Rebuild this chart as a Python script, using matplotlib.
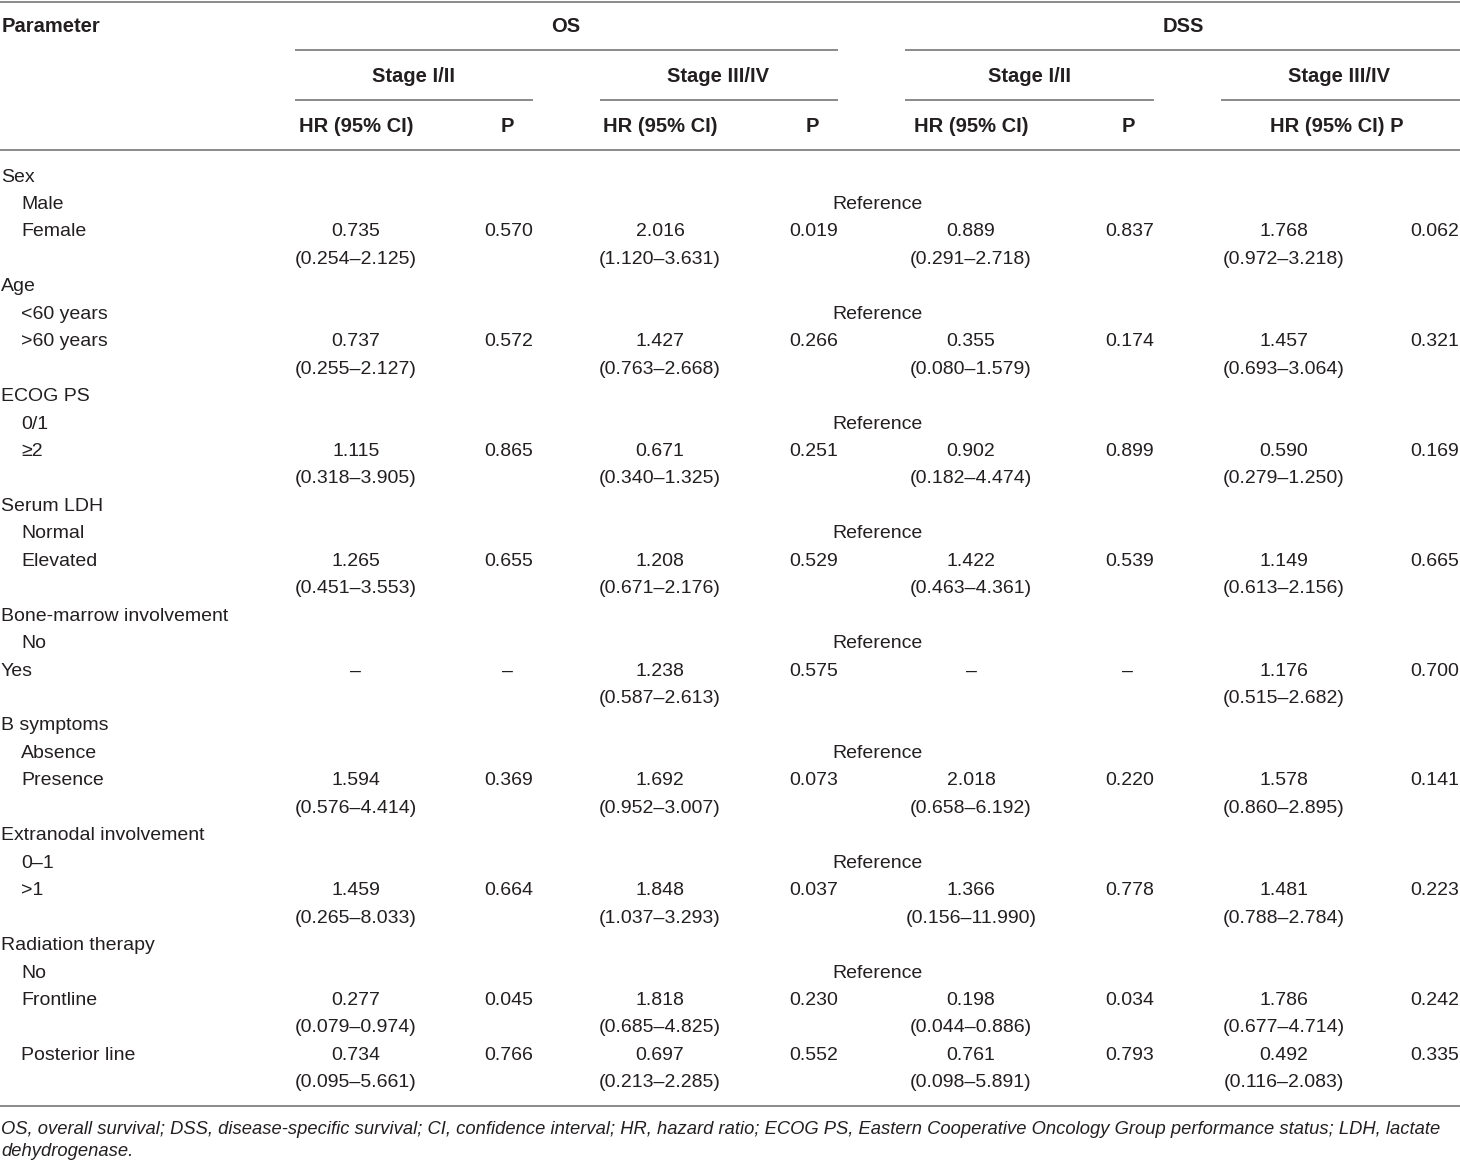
import matplotlib.pyplot as plt

plt.rcParams['font.family'] = ['Liberation Sans', 'DejaVu Sans']

# Row labels of the table (indent flag: True = sub-category)
labels = ["Sex", "Male", "Female", "Age", "<60 years", ">60 years",
          "ECOG PS", "0/1", "≥2", "Serum LDH", "Normal", "Elevated",
          "Bone-marrow involvement", "No", "Yes", "B symptoms", "Absence", "Presence",
          "Extranodal involvement", "0–1", ">1", "Radiation therapy", "No",
          "Frontline", "Posterior line"]
indent = [False, True, True, False, True, True, False, True, True, False, True, True,
          False, True, False, False, True, True, False, True, True, False, True, True, True]
# line slot of each label (a comparison row takes two slots: value + CI)
slots = [0, 1, 2, 4, 5, 6, 8, 9, 10, 12, 13, 14, 16, 17, 18, 20, 21, 22,
         24, 25, 26, 28, 29, 30, 32]
ref_slots = [1, 5, 9, 13, 17, 21, 25, 29]
cmp_slots = [2, 6, 10, 14, 18, 22, 26, 30, 32]

os_s12_hr = ["0.735", "0.737", "1.115", "1.265", "–", "1.594", "1.459", "0.277", "0.734"]
os_s12_ci = ["0.254–2.125", "0.255–2.127", "0.318–3.905", "0.451–3.553", None,
             "0.576–4.414", "0.265–8.033", "0.079–0.974", "0.095–5.661"]
os_s12_p = ["0.570", "0.572", "0.865", "0.655", "–", "0.369", "0.664", "0.045", "0.766"]

os_s34_hr = ["2.016", "1.427", "0.671", "1.208", "1.238", "1.692", "1.848", "1.818", "0.697"]
os_s34_ci = ["1.120–3.631", "0.763–2.668", "0.340–1.325", "0.671–2.176", "0.587–2.613",
             "0.952–3.007", "1.037–3.293", "0.685–4.825", "0.213–2.285"]
os_s34_p = ["0.019", "0.266", "0.251", "0.529", "0.575", "0.073", "0.037", "0.230", "0.552"]

dss_s12_hr = ["0.889", "0.355", "0.902", "1.422", "–", "2.018", "1.366", "0.198", "0.761"]
dss_s12_ci = ["0.291–2.718", "0.080–1.579", "0.182–4.474", "0.463–4.361", None,
              "0.658–6.192", "0.156–11.990", "0.044–0.886", "0.098–5.891"]
dss_s12_p = ["0.837", "0.174", "0.899", "0.539", "–", "0.220", "0.778", "0.034", "0.793"]

dss_s34_hr = ["1.768", "1.457", "0.590", "1.149", "1.176", "1.578", "1.481", "1.786", "0.492"]
dss_s34_ci = ["0.972–3.218", "0.693–3.064", "0.279–1.250", "0.613–2.156", "0.515–2.682",
              "0.860–2.895", "0.788–2.784", "0.677–4.714", "0.116–2.083"]
dss_s34_p = ["0.062", "0.321", "0.169", "0.665", "0.700", "0.141", "0.223", "0.242", "0.335"]

footnote = ["OS, overall survival; DSS, disease-specific survival; CI, confidence interval; "
            "HR, hazard ratio; ECOG PS, Eastern Cooperative Oncology Group performance status; LDH, lactate",
            "dehydrogenase."]

W, H = 1460, 1163
fig = plt.figure(figsize=(W / 100, H / 100), dpi=100)
ax = fig.add_axes([0, 0, 1, 1])
ax.set_xlim(0, W)
ax.set_ylim(H, 0)
ax.axis('off')

fs = 14
line_c = '#8a8a8a'
txt_c = '#231f20'

def hline(y, x0, x1):
    ax.plot([x0, x1], [y, y], color=line_c, lw=1.4, solid_capstyle='butt')

# rules
hline(1.5, 0, W)
hline(50, 295, 838)
hline(50, 905, W)
for x0, x1 in [(295, 533), (600, 838), (905, 1154), (1221, W)]:
    hline(100, x0, x1)
hline(150, 0, W)
hline(1106, 0, W)

# header
hdr = dict(fontsize=fs + 0.5, fontweight='bold', color=txt_c, va='center')
ax.text(2, 27, "Parameter", ha='left', **hdr)
ax.text(566, 27, "OS", ha='center', **hdr)
ax.text(1183, 27, "DSS", ha='center', **hdr)
ax.text(413, 77, "Stage I/II", ha='center', **hdr)
ax.text(718, 77, "Stage III/IV", ha='center', **hdr)
ax.text(1029, 77, "Stage I/II", ha='center', **hdr)
ax.text(1339, 77, "Stage III/IV", ha='center', **hdr)
ax.text(356, 126, "HR (95% CI)", ha='center', **hdr)
ax.text(507, 126, "P", ha='center', **hdr)
ax.text(660, 126, "HR (95% CI)", ha='center', **hdr)
ax.text(812, 126, "P", ha='center', **hdr)
ax.text(971, 126, "HR (95% CI)", ha='center', **hdr)
ax.text(1128, 126, "P", ha='center', **hdr)
ax.text(1337, 126, "HR (95% CI) P", ha='center', **hdr)

y0, step = 177, 27.45
def ypos(s):
    return y0 + s * step

body = dict(fontsize=fs, color=txt_c, va='center')

for lab, ind, s in zip(labels, indent, slots):
    ax.text(21 if ind else 1, ypos(s), lab, ha='left', **body)

for s in ref_slots:
    ax.text(877, ypos(s), "Reference", ha='center', **body)

# (hr, ci, p, hr centre x, p right x, dash centre x for p)
cols = [(os_s12_hr, os_s12_ci, os_s12_p, 356, 533, 507),
        (os_s34_hr, os_s34_ci, os_s34_p, 660, 838, 812),
        (dss_s12_hr, dss_s12_ci, dss_s12_p, 971, 1154, 1128),
        (dss_s34_hr, dss_s34_ci, dss_s34_p, 1284, 1459, 1435)]
for hr, ci, p, xh, xp, xd in cols:
    for i, s in enumerate(cmp_slots):
        y = ypos(s)
        ax.text(xh, y, hr[i], ha='center', **body)
        if ci[i] is not None:
            ax.text(xh, y + step, "(" + ci[i] + ")", ha='center', **body)
        if p[i] == "–":
            ax.text(xd, y, p[i], ha='center', **body)
        else:
            ax.text(xp, y, p[i], ha='right', **body)

ax.text(1, 1129, footnote[0], ha='left', va='center', fontsize=13.2, style='italic', color=txt_c)
ax.text(1, 1152, footnote[1], ha='left', va='center', fontsize=13.2, style='italic', color=txt_c)

fig.savefig("out.png", dpi=100, facecolor='white')
